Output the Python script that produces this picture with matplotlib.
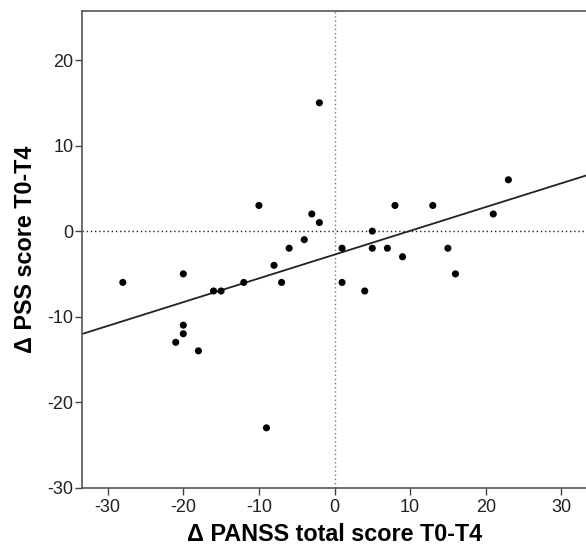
import numpy as np
import matplotlib
matplotlib.use("Agg")
import matplotlib.pyplot as plt

plt.rcParams['font.family'] = ['Liberation Sans', 'DejaVu Sans']
plt.rcParams['axes.unicode_minus'] = False

panss = [-28, -20, -20, -20, -21, -18, -16, -15, -12, -10, -9, -8, -7, -6, -4, -3,
         -2, -2, 1, 1, 4, 5, 5, 7, 8, 9, 13, 15, 16, 21, 23]
pss = [-6, -5, -11, -12, -13, -14, -7, -7, -6, 3, -23, -4, -6, -2, -1, 2,
       1, 15, -2, -6, -7, 0, -2, -2, 3, -3, 3, -2, -5, 2, 6]
xticks = [-30, -20, -10, 0, 10, 20, 30]
yticks = [-30, -20, -10, 0, 10, 20]

W, H = 586, 549
fig = plt.figure(figsize=(W / 100, H / 100), dpi=100)
left, right, top, bottom = 82, 587, 11.3, 487.7
ax = fig.add_axes([left / W, 1 - bottom / H, (right - left) / W, (bottom - top) / H])

xlim = (-33.4, 33.4)
ylim = (-30, 25.7)
ax.set_xlim(*xlim)
ax.set_ylim(*ylim)

ax.axhline(0, color='#222222', lw=1.0, ls=(0, (1, 2)), zorder=1)
ax.axvline(0, color='#777777', lw=1.0, ls=(0, (1, 2)), zorder=1)

slope, intercept = np.polyfit(panss, pss, 1)
xs = np.array(xlim)
ax.plot(xs, slope * xs + intercept, color='#222222', lw=1.3, zorder=2)

ax.scatter(panss, pss, s=26, color='black', edgecolors='none', zorder=3)

ax.set_xticks(xticks)
ax.set_yticks(yticks)
ax.tick_params(direction='out', length=5, width=1, color='#444444',
               labelsize=13, labelcolor='#222222', pad=1)
ax.tick_params(axis='x', pad=3)
for s in ['left', 'bottom', 'top']:
    ax.spines[s].set_color('#555555')
    ax.spines[s].set_linewidth(1.2)
ax.spines['right'].set_visible(False)

ax.set_xlabel('Δ PANSS total score T0-T4', fontsize=16.8, fontweight='bold')
ax.set_ylabel('Δ PSS score T0-T4', fontsize=16.8, fontweight='bold')
ax.xaxis.set_label_coords(0.5, -(534.5 - bottom) / (bottom - top), transform=ax.transAxes)
ax.xaxis.label.set_va('center')
ax.yaxis.set_label_coords((25.5 - left) / (right - left), 0.5, transform=ax.transAxes)
ax.yaxis.label.set_va('center')
ax.yaxis.label.set_rotation_mode('anchor')

fig.savefig('out.png', dpi=100)
